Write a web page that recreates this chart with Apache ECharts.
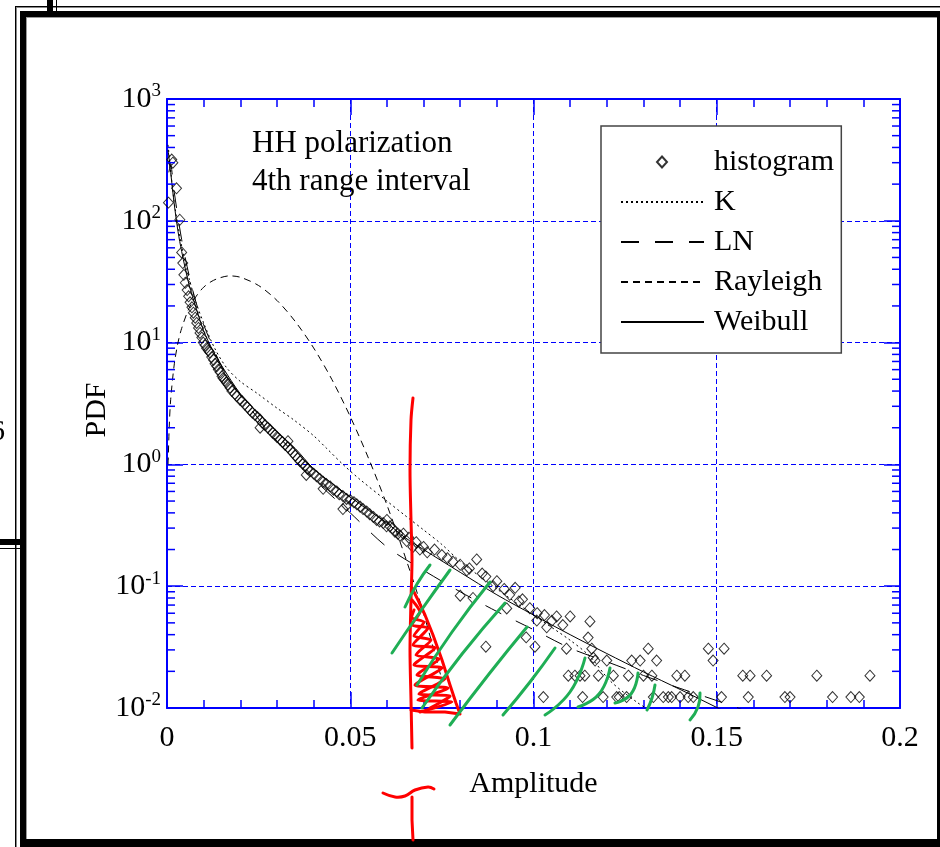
<!DOCTYPE html>
<html>
<head>
<meta charset="utf-8">
<script src="https://cdn.jsdelivr.net/npm/echarts@6/dist/echarts.min.js"></script>
<style>
html,body{margin:0;padding:0;background:#fff;}
#chart{width:940px;height:847px;}
</style>
</head>
<body>
<div id="chart"></div>
<script>
// ---- data ----
const xTickLabels = ['0', '0.05', '0.1', '0.15', '0.2'];
const yDecades = [-2, -1, 0, 1, 2, 3];
const minorMultipliers = [2, 3, 4, 5, 6, 7, 8, 9];

const histAmp = [
0.0004,0.0013,0.0016,0.0026,0.0035,0.004,0.0043,0.0046,0.005,0.0055,
0.0059,0.0063,0.0068,0.0072,0.0077,0.0081,0.0086,0.009,0.0095,0.0099,
0.0104,0.0108,0.0113,0.0117,0.0122,0.0127,0.0131,0.0136,0.014,0.0145,
0.015,0.0153,0.0158,0.0162,0.0167,0.0172,0.0177,0.0185,0.019,0.0199,
0.0205,0.0212,0.022,0.0226,0.0233,0.024,0.0247,0.0254,0.0254,0.026,
0.0268,0.0275,0.0281,0.0288,0.0295,0.03,0.0308,0.0315,0.0322,0.033,
0.033,0.0336,0.0343,0.035,0.0357,0.0363,0.037,0.0377,0.038,0.0383,
0.039,0.04,0.0408,0.0417,0.0426,0.0426,0.0435,0.0445,0.0454,0.0463,
0.047,0.048,0.048,0.049,0.049,0.05,0.051,0.0518,0.0527,0.0535,
0.0545,0.0553,0.0563,0.0572,0.058,0.059,0.0599,0.06,0.0608,0.0615,
0.0622,0.063,0.0636,0.0645,0.0654,0.066,0.0671,0.068,0.069,0.07,
0.071,0.073,0.075,0.0765,0.078,0.08,0.0818,0.0825,0.0845,0.086,
0.087,0.089,0.09,0.092,0.0935,0.095,0.096,0.097,0.099,0.08,
0.0835,0.0927,0.087,0.098,0.1004,0.1009,0.101,0.103,0.1036,0.105,
0.1063,0.108,0.11,0.1154,0.1149,0.1163,0.109,0.1159,0.1313,0.1477,
0.152,0.12,0.1168,0.1268,0.1291,0.1336,0.149,0.1095,0.1113,0.1127,
0.114,0.1177,0.1218,0.1259,0.13,0.1323,0.1391,0.1413,0.1571,0.1591,
0.1636,0.1773,0.1918,0.1027,0.1134,0.119,0.1227,0.1234,0.1254,0.1327,
0.1354,0.1368,0.1377,0.14,0.1422,0.1436,0.1513,0.1586,0.1686,0.170,
0.1816,0.1866,0.1889
];
const histPdf = [
141,318,300,185,102,55,45,36,31,27,
24,21.4,19.5,17.6,16,14.5,13.2,12,11,10,
9.5,9.0,8.6,8.3,7.6,7.2,6.7,6.4,6.0,5.7,
5.3,5.1,4.9,4.7,4.5,4.26,4.0,3.8,3.65,3.4,
3.3,3.1,2.95,2.8,2.65,2.55,2.45,2.33,2.0,2.2,
2.1,2.0,1.93,1.82,1.75,1.68,1.6,1.53,1.45,1.38,
1.55,1.32,1.25,1.18,1.12,1.06,1.01,0.97,0.82,0.92,
0.88,0.84,0.8,0.76,0.72,0.63,0.69,0.66,0.62,0.6,
0.57,0.55,0.43,0.52,0.46,0.51,0.49,0.47,0.45,0.43,
0.41,0.39,0.37,0.35,0.34,0.33,0.31,0.35,0.31,0.3,
0.28,0.27,0.26,0.27,0.235,0.25,0.21,0.23,0.2,0.21,
0.19,0.2,0.18,0.17,0.159,0.15,0.135,0.14,0.166,0.127,
0.12,0.1,0.11,0.095,0.085,0.097,0.075,0.078,0.066,0.0835,
0.08,0.0657,0.0319,0.038,0.0319,0.0522,0.06,0.058,0.046,0.052,
0.0565,0.048,0.0565,0.0514,0.0379,0.0259,0.0307,0.0307,0.0307,0.0307,
0.0307,0.0245,0.0245,0.0245,0.0245,0.0245,0.0245,0.0184,0.0184,0.0184,
0.0184,0.0184,0.0184,0.0184,0.0184,0.0184,0.0184,0.0184,0.0184,0.0184,
0.0184,0.0184,0.0184,0.0123,0.0123,0.0123,0.0123,0.0123,0.0123,0.0123,
0.0123,0.0123,0.0123,0.0123,0.0123,0.0123,0.0123,0.0123,0.0123,0.0123,
0.0123,0.0123,0.0123
];

const kAmp = [0.0003,0.001,0.002,0.004,0.006,0.008,0.01,0.013,0.0163,0.02,0.0245,0.03,0.0345,0.04,0.0436,0.048,0.0527,0.06,0.065,0.07,0.075,0.08,0.09,0.1,0.11,0.1154,0.121,0.1285,0.132];
const kPdf = [420,260,140,62,34,21,14.5,9.0,6.2,4.8,3.85,2.9,2.33,1.72,1.35,1.0,0.75,0.5,0.38,0.29,0.22,0.16,0.095,0.058,0.036,0.0265,0.0166,0.011,0.0095];

const lnAmp = [0.0005,0.001,0.0015,0.002,0.004,0.006,0.008,0.01,0.015,0.02,0.03,0.04,0.05,0.06,0.07,0.08,0.09,0.1,0.11,0.12,0.13,0.14,0.15,0.16];
const lnPdf = [250,290,230,170,70,36,21,14,6.3,3.7,1.55,0.76,0.4,0.21,0.135,0.09,0.062,0.044,0.031,0.024,0.0185,0.0145,0.0115,0.009];

const rayAmp = [0.0003,0.0006,0.001,0.002,0.003,0.004,0.006,0.008,0.01,0.012,0.014,0.017,0.02,0.025,0.03,0.035,0.04,0.045,0.05,0.055,0.06,0.065,0.07,0.075];
const rayPdf = [1.0,2.0,3.4,6.7,10,13.1,19.1,24.1,28.5,31.6,33.7,35.3,34.4,29.4,22.2,14.9,9.05,4.97,2.47,1.12,0.465,0.174,0.06,0.017];

const weiAmp = [0.0003,0.001,0.002,0.003,0.004,0.006,0.008,0.01,0.0125,0.015,0.02,0.025,0.03,0.035,0.04,0.045,0.05,0.055,0.06,0.065,0.07,0.08,0.09,0.1,0.11,0.12,0.13,0.14,0.15,0.155];
const weiPdf = [380,250,135,82,56,30,19,12.5,8.6,6.4,3.8,2.6,1.85,1.35,0.92,0.7,0.54,0.42,0.33,0.25,0.2,0.13,0.085,0.058,0.04,0.028,0.0198,0.0142,0.0101,0.0085];

const histName = 'histogram';
const lineNames = ['K', 'LN', 'Rayleigh', 'Weibull'];

// ---- build ----
const zip = (a, b) => a.map((v, i) => [v, b[i]]);
const minorVals = [];
yDecades.slice(0, -1).forEach(e => minorMultipliers.forEach(m => minorVals.push([0, m * Math.pow(10, e)])));

const BLUE = '#0000ff';
const FONT = '"Liberation Serif", "Times New Roman", serif';
const RED = '#ff0000';
const GREEN = '#1fae55';

const chart = echarts.init(document.getElementById('chart'), null, {renderer: 'canvas'});

const axisCommonX = {
  type: 'value', min: 0, max: 0.2, interval: 0.05,
  axisLine: {show: true, onZero: false, lineStyle: {color: BLUE, width: 2}},
  axisTick: {show: true, inside: true, length: 16, lineStyle: {color: BLUE, width: 1.5}},
  minorTick: {show: true, splitNumber: 5, length: 8, lineStyle: {color: BLUE, width: 1.5}},
};
const axisCommonY = {
  type: 'log', logBase: 10, min: 0.01, max: 1000,
  axisLine: {show: true, onZero: false, lineStyle: {color: BLUE, width: 2}},
  axisTick: {show: true, inside: true, length: 16, lineStyle: {color: BLUE, width: 1.5}},
};

const legendText = {fontFamily: FONT, fontSize: 30, color: '#000', lineHeight: 30};

const stroke = (pts, color, smooth) => ({
  type: 'polyline', shape: {points: pts, smooth: smooth || 0},
  style: {stroke: color, lineWidth: 3, fill: null, lineJoin: 'round', lineCap: 'round'}, z: 30
});

const option = {
  animation: false,
  backgroundColor: '#fff',
  grid: {left: 167, right: 40, top: 99, bottom: 139, containLabel: false},
  xAxis: [
    Object.assign({}, axisCommonX, {
      position: 'bottom',
      name: 'Amplitude', nameLocation: 'middle', nameGap: 61,
      nameTextStyle: {fontFamily: FONT, fontSize: 30, color: '#000'},
      axisLabel: {
        show: true, margin: 15, fontFamily: FONT, fontSize: 30, color: '#000',
        formatter: v => xTickLabels[Math.round(v / 0.05)] || ''
      },
      splitLine: {show: true, lineStyle: {color: BLUE, width: 1, type: [5, 3]}}
    }),
    Object.assign({}, axisCommonX, {
      position: 'top', axisLabel: {show: false}, splitLine: {show: false}
    })
  ],
  yAxis: [
    Object.assign({}, axisCommonY, {
      position: 'left',
      axisLabel: {
        show: true, margin: 6,
        formatter: v => '{b|10}{s|' + Math.round(Math.log10(v)) + '}',
        rich: {
          b: {fontFamily: FONT, fontSize: 30, color: '#000', lineHeight: 34},
          s: {fontFamily: FONT, fontSize: 19, color: '#000', lineHeight: 19, verticalAlign: 'top'}
        }
      },
      splitLine: {show: true, lineStyle: {color: BLUE, width: 1, type: [5, 3]}}
    }),
    Object.assign({}, axisCommonY, {
      position: 'right', axisLabel: {show: false}, splitLine: {show: false}
    })
  ],
  legend: [
    {
      show: true, orient: 'vertical', left: 601, top: 126, z: 4,
      padding: [61, 8, 16, 19],
      itemWidth: 83, itemHeight: 10, itemGap: 10,
      borderColor: '#444', borderWidth: 1.5, backgroundColor: '#fff',
      textStyle: Object.assign({padding: [0, 11, 0, 5]}, legendText),
      data: lineNames.map(n => ({name: n, itemStyle: {opacity: 0}}))
    },
    {
      show: true, orient: 'vertical', left: 656, top: 147, z: 6,
      padding: 0, itemWidth: 10, itemHeight: 11, itemGap: 10,
      textStyle: Object.assign({padding: [0, 0, 0, 42]}, legendText),
      data: [{name: histName, icon: 'diamond'}]
    }
  ],
  series: [
    {
      name: histName, type: 'scatter', xAxisIndex: 0, yAxisIndex: 0,
      symbol: 'diamond', symbolSize: [10, 11],
      itemStyle: {color: 'rgba(255,255,255,0)', borderColor: '#000', borderWidth: 1},
      data: zip(histAmp, histPdf), z: 3
    },
    {
      name: 'K', type: 'line', showSymbol: false, symbol: 'none', smooth: 0.3, clip: true,
      lineStyle: {color: '#000', width: 1, type: [2, 3]},
      itemStyle: {color: '#000'},
      data: zip(kAmp, kPdf)
    },
    {
      name: 'LN', type: 'line', showSymbol: false, symbol: 'none', smooth: 0.3, clip: true,
      lineStyle: {color: '#000', width: 1, type: [18, 16]},
      itemStyle: {color: '#000'},
      data: zip(lnAmp, lnPdf)
    },
    {
      name: 'Rayleigh', type: 'line', showSymbol: false, symbol: 'none', smooth: 0.3, clip: true,
      lineStyle: {color: '#000', width: 1, type: [7, 5]},
      itemStyle: {color: '#000'},
      data: zip(rayAmp, rayPdf)
    },
    {
      name: 'Weibull', type: 'line', showSymbol: false, symbol: 'none', smooth: 0.3, clip: true,
      lineStyle: {color: '#000', width: 1, type: 'solid'},
      itemStyle: {color: '#000'},
      data: zip(weiAmp, weiPdf)
    },
    {
      name: 'logMinorTicks', type: 'custom', xAxisIndex: 0, yAxisIndex: 0, silent: true,
      renderItem: (params, api) => {
        const y = api.coord([0, api.value(1)])[1];
        const cs = params.coordSys;
        const st = {stroke: BLUE, lineWidth: 1.5};
        return {type: 'group', children: [
          {type: 'line', shape: {x1: cs.x, y1: y, x2: cs.x + 8, y2: y}, style: st},
          {type: 'line', shape: {x1: cs.x + cs.width - 8, y1: y, x2: cs.x + cs.width, y2: y}, style: st}
        ]};
      },
      data: minorVals, z: 4
    }
  ],
  graphic: [
    {type: 'text', x: 97, y: 410, rotation: Math.PI / 2, style: {text: 'PDF', font: '30px ' + FONT, fill: '#000', align: 'center', verticalAlign: 'middle'}, z: 10},
    {type: 'text', left: 252, top: 128, style: {text: 'HH polarization', font: '31px ' + FONT, fill: '#000'}, z: 10},
    {type: 'text', left: 252, top: 166, style: {text: '4th range interval', font: '31px ' + FONT, fill: '#000'}, z: 10},
    // page frame around the figure
    {type: 'rect', shape: {x: 15, y: 6, width: 925, height: 1}, style: {fill: '#000'}, z: 20},
    {type: 'rect', shape: {x: 15, y: 7, width: 925, height: 1}, style: {fill: '#888'}, z: 20},
    {type: 'rect', shape: {x: 15, y: 6, width: 1, height: 841}, style: {fill: '#000'}, z: 20},
    {type: 'rect', shape: {x: 16, y: 7, width: 1, height: 840}, style: {fill: '#888'}, z: 20},
    {type: 'rect', shape: {x: 20, y: 11, width: 920, height: 6}, style: {fill: '#000'}, z: 20},
    {type: 'rect', shape: {x: 20, y: 11, width: 6, height: 836}, style: {fill: '#000'}, z: 20},
    {type: 'rect', shape: {x: 937, y: 11, width: 3, height: 836}, style: {fill: '#000'}, z: 20},
    {type: 'rect', shape: {x: 20, y: 839, width: 920, height: 8}, style: {fill: '#000'}, z: 20},
    {type: 'rect', shape: {x: 26, y: 17, width: 1, height: 822}, style: {fill: '#999'}, z: 20},
    {type: 'rect', shape: {x: 26, y: 17, width: 911, height: 1}, style: {fill: '#999'}, z: 20},
    {type: 'rect', shape: {x: 47, y: 0, width: 6, height: 11}, style: {fill: '#000'}, z: 20},
    {type: 'rect', shape: {x: 56, y: 0, width: 1, height: 11}, style: {fill: '#000'}, z: 20},
    {type: 'rect', shape: {x: 0, y: 539, width: 20, height: 6}, style: {fill: '#000'}, z: 20},
    {type: 'rect', shape: {x: 0, y: 548, width: 20, height: 1}, style: {fill: '#000'}, z: 20},
    {type: 'text', left: -10, top: 417, style: {text: '6', font: '30px ' + FONT, fill: '#000'}, z: 20},
    // hand-drawn red annotation
    stroke([[413,398],[411,420],[410,470],[411,520],[412,560],[411,600],[410,650],[411,700],[412,748]], RED, 0.3),
    stroke([[412,588],[418,600],[425,615],[433,635],[442,660],[450,685],[456,703],[460,714],[445,712],[425,712],[411,710]], RED, 0),
    stroke([[412,600],[420,612],[412,625],[428,628],[413,645],[435,648],[414,665],[442,668],[415,685],[448,688],[418,700],[452,702],[420,712]], RED, 0.2),
    stroke([[414,610],[412,618],[424,622],[414,636],[431,640],[416,655],[439,659],[417,675],[445,679],[419,694],[450,696],[430,708]], RED, 0.2),
    stroke([[383,793],[395,797],[405,796],[415,790],[428,787],[434,789]], RED, 0.4),
    stroke([[412,797],[412,820],[413,840]], RED, 0),
    // hand-drawn green strokes
    stroke([[405,607],[417,584],[430,565]], GREEN, 0.5),
    stroke([[392,653],[420,612],[450,570]], GREEN, 0.5),
    stroke([[417,685],[452,632],[490,582]], GREEN, 0.5),
    stroke([[422,708],[462,654],[505,603]], GREEN, 0.5),
    stroke([[450,725],[489,674],[527,627]], GREEN, 0.5),
    stroke([[503,715],[530,682],[555,648]], GREEN, 0.5),
    stroke([[545,715],[570,692],[585,658]], GREEN, 0.5),
    stroke([[578,707],[599,694],[610,668]], GREEN, 0.5),
    stroke([[615,703],[631,694],[638,673]], GREEN, 0.5),
    stroke([[647,710],[652,698],[655,685]], GREEN, 0.5),
    stroke([[690,720],[698,707],[700,693]], GREEN, 0.5)
  ]
};
chart.setOption(option);
</script>
</body>
</html>
